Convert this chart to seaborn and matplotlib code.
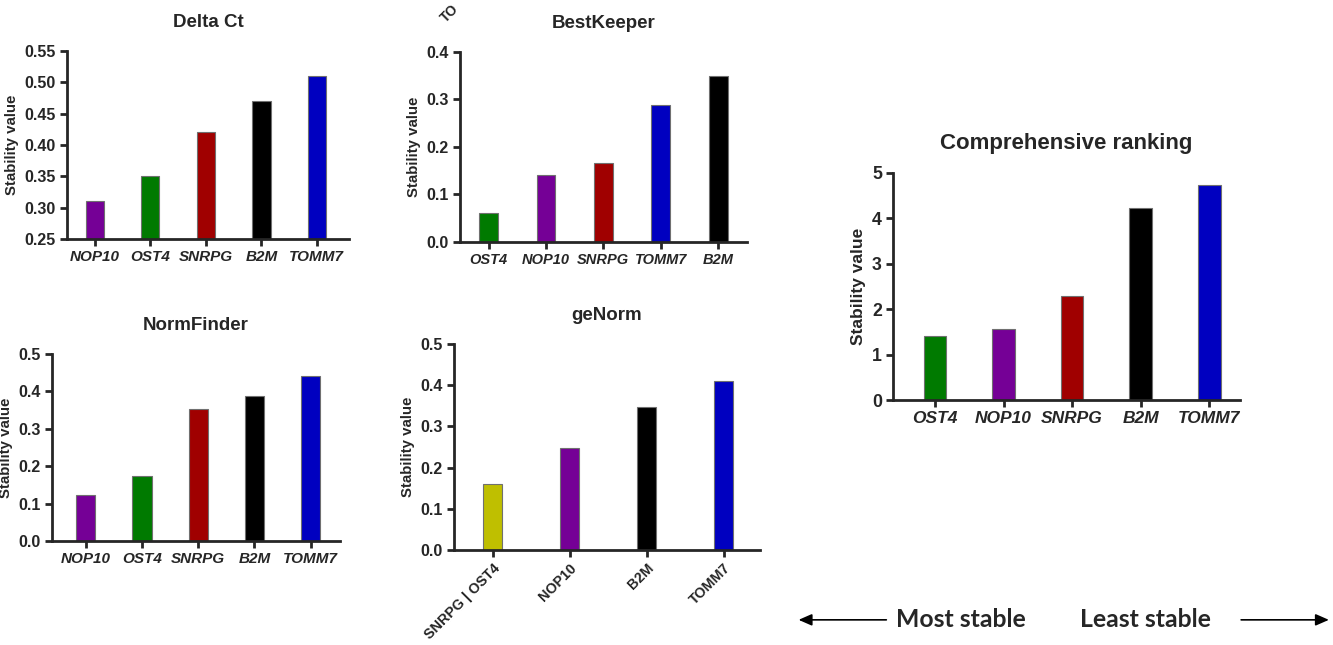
import matplotlib
matplotlib.use('Agg')
import matplotlib.pyplot as plt
import seaborn as sns
import pandas as pd

sns.set_style('ticks')
plt.rcParams['font.family'] = ['Liberation Sans', 'DejaVu Sans']
plt.rcParams['font.weight'] = 'bold'

# gene colours
colors = {'NOP10': '#750096', 'OST4': '#007A00', 'SNRPG': '#A00000',
          'B2M': '#000000', 'TOMM7': '#0000C0', 'SNRPG | OST4': '#BFBF00'}

# Delta Ct
dct_genes = ['NOP10', 'OST4', 'SNRPG', 'B2M', 'TOMM7']
dct_vals = [0.31, 0.35, 0.42, 0.47, 0.51]

# BestKeeper
bk_genes = ['OST4', 'NOP10', 'SNRPG', 'TOMM7', 'B2M']
bk_vals = [0.061, 0.141, 0.167, 0.288, 0.35]

# NormFinder
nf_genes = ['NOP10', 'OST4', 'SNRPG', 'B2M', 'TOMM7']
nf_vals = [0.122, 0.175, 0.354, 0.387, 0.442]

# geNorm
gn_genes = ['SNRPG | OST4', 'NOP10', 'B2M', 'TOMM7']
gn_vals = [0.16, 0.248, 0.347, 0.41]

# Comprehensive ranking
cr_genes = ['OST4', 'NOP10', 'SNRPG', 'B2M', 'TOMM7']
cr_vals = [1.41, 1.57, 2.28, 4.22, 4.73]


def bar_panel(rect, genes, vals, title, ylim, yticks, yfmt, xlim, width,
              italic=True, rot=0, title_size=13.5, tick_size=11.5, xtick_size=11,
              label_size=10.8):
    ax = fig.add_axes(rect)
    df = pd.DataFrame({'gene': genes, 'value': vals})
    sns.barplot(data=df, x='gene', y='value', hue='gene', order=genes,
                palette=colors, legend=False, width=width, saturation=1,
                edgecolor='#707070', linewidth=0.8, ax=ax)
    ax.set_ylim(*ylim)
    ax.set_xlim(*xlim)
    ax.set_yticks(yticks)
    ax.set_yticklabels([yfmt.format(v) for v in yticks], fontsize=tick_size,
                       fontweight='bold')
    ax.set_xticks(range(len(genes)))
    if rot:
        ax.set_xticklabels(genes, rotation=rot, ha='right', rotation_mode='anchor',
                           fontsize=xtick_size, fontweight='bold')
    else:
        ax.set_xticklabels(genes, fontsize=xtick_size, fontweight='bold',
                           style='italic' if italic else 'normal')
    ax.set_xlabel('')
    ax.set_ylabel('Stability value', fontsize=label_size, fontweight='bold')
    ax.set_title(title, fontsize=title_size, fontweight='bold', pad=17)
    sns.despine(ax=ax)
    for s in ['left', 'bottom']:
        ax.spines[s].set_linewidth(2)
    ax.tick_params(width=2, length=5, direction='out', pad=3)
    return ax


fig = plt.figure(figsize=(13.33, 6.45), dpi=100)

bar_panel([0.0503, 0.6295, 0.2116, 0.2915], dct_genes, dct_vals, 'Delta Ct',
          (0.25, 0.55), [0.25, 0.30, 0.35, 0.40, 0.45, 0.50, 0.55], '{:.2f}',
          (-0.5, 4.58), 0.33)

bar_panel([0.345, 0.6248, 0.2153, 0.2946], bk_genes, bk_vals, 'BestKeeper',
          (0, 0.4), [0, 0.1, 0.2, 0.3, 0.4], '{:.1f}',
          (-0.5, 4.5), 0.33, xtick_size=10.5)

bar_panel([0.039, 0.1612, 0.216, 0.29], nf_genes, nf_vals, 'NormFinder',
          (0, 0.5), [0, 0.1, 0.2, 0.3, 0.4, 0.5], '{:.1f}',
          (-0.6, 4.52), 0.34)

bar_panel([0.3406, 0.1473, 0.2296, 0.3194], gn_genes, gn_vals, 'geNorm',
          (0, 0.5), [0, 0.1, 0.2, 0.3, 0.4, 0.5], '{:.1f}',
          (-0.5, 3.47), 0.25, italic=False, rot=45, xtick_size=10.3)

bar_panel([0.67, 0.3798, 0.2603, 0.352], cr_genes, cr_vals, 'Comprehensive ranking',
          (0, 5), [0, 1, 2, 3, 4, 5], '{:.0f}',
          (-0.61, 4.45), 0.33, title_size=16, tick_size=12.8, xtick_size=12.5,
          label_size=12.5)

# label fragment at the top edge
fig.text(0.329, 0.997, 'TO', rotation=45, fontsize=10, fontweight='bold',
         ha='left', va='top')

# stability arrows
fig.text(0.672, 0.039, 'Most stable', fontsize=17.8, fontweight='bold',
         family=['Lato', 'DejaVu Sans'], ha='left', va='center')
fig.text(0.810, 0.039, 'Least stable', fontsize=17.8, fontweight='bold',
         family=['Lato', 'DejaVu Sans'], ha='left', va='center')
fig.add_artist(matplotlib.patches.FancyArrowPatch(
    (0.667, 0.039), (0.597, 0.039), transform=fig.transFigure,
    arrowstyle='-|>,head_length=8,head_width=3.5', color='black', lw=1.2))
fig.add_artist(matplotlib.patches.FancyArrowPatch(
    (0.929, 0.039), (0.999, 0.039), transform=fig.transFigure,
    arrowstyle='-|>,head_length=8,head_width=3.5', color='black', lw=1.2))

fig.savefig('out.png', dpi=100)
